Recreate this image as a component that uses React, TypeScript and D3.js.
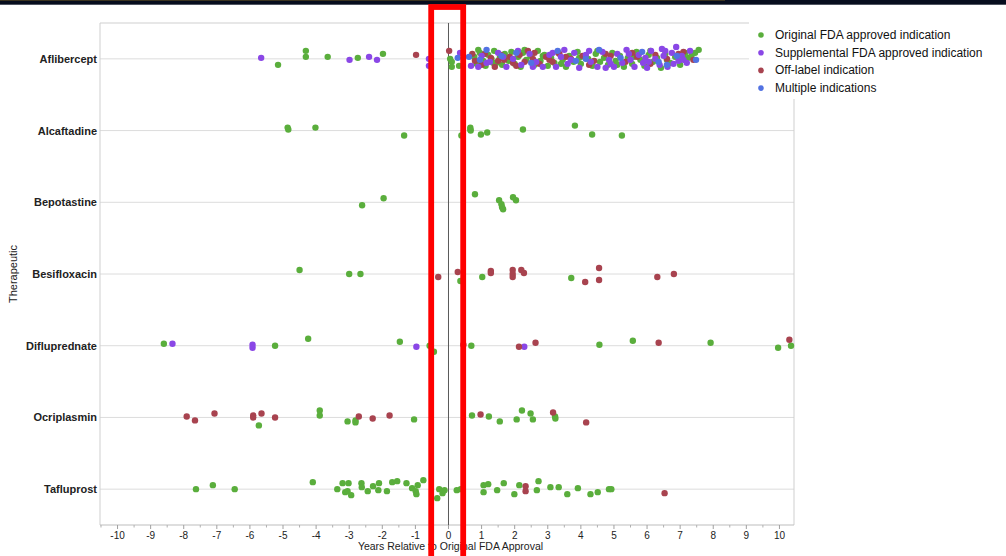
import React from "react";
import * as d3 from "d3";

// ---------- DATA ----------
const therapeutics = [
  "Aflibercept",
  "Alcaftadine",
  "Bepotastine",
  "Besifloxacin",
  "Difluprednate",
  "Ocriplasmin",
  "Tafluprost",
];

const indicationTypes = [
  "Original FDA approved indication",
  "Supplemental FDA approved indication",
  "Off-label indication",
  "Multiple indications",
];

const typeColors = ["#5aae3c", "#8a47e6", "#a8434f", "#5272e2"];

const xTicks = [-10, -9, -8, -7, -6, -5, -4, -3, -2, -1, 0, 1, 2, 3, 4, 5, 6, 7, 8, 9, 10];

// each point: [years relative to original FDA approval, vertical jitter]
const aflOriginal = [
  [-5.15, 6], [-4.31, -8], [-4.31, -2], [-3.65, -2], [-2.74, -1], [-1.98, -5], [0.05, 0], [0.1, 3], [0.1, 8], [0.32, 7],
  [0.78, -2], [0.85, 5], [0.9, -9], [0.95, -6], [1.05, 2], [1.12, 7], [1.2, -4], [1.3, 0], [1.35, 4], [1.38, -8],
  [1.45, 4], [1.55, -1], [1.62, 6], [1.7, -5], [1.75, -1], [1.82, 2], [1.9, -7], [2.0, 5], [2.1, -2], [2.18, 8],
  [2.25, -6], [2.3, -9], [2.35, 1], [2.48, -3], [2.6, 6], [2.7, -8], [2.78, 2], [2.85, -3], [2.9, -4], [3.0, 7],
  [3.1, -1], [3.2, 4], [3.32, -6], [3.4, 5], [3.45, 1], [3.55, 8], [3.65, -3], [3.78, 3], [3.9, -7], [3.95, -1],
  [4.0, 5], [4.1, -2], [4.22, 0], [4.35, 7], [4.45, -5], [4.5, -8], [4.58, 3], [4.7, -1], [4.82, 6], [4.95, -6],
  [5.05, 2], [5.1, 6], [5.18, -3], [5.3, 8], [5.42, -1], [5.55, 5], [5.6, -2], [5.68, -7], [5.8, 1], [5.92, 7],
  [6.05, -4], [6.1, -8], [6.18, 3], [6.3, -1], [6.42, 9], [6.55, -5], [6.6, 1], [6.7, 4], [6.85, -2], [7.0, 6],
  [7.1, -2], [7.15, -6], [7.25, -1], [7.35, -4], [7.45, -6], [7.56, -9],
];
const aflSupplemental = [
  [-5.66, -1], [-2.99, 1], [-2.4, -2], [-2.16, 1], [-0.59, 0], [-0.59, 7], [0.35, -6], [0.68, 7],
  [0.9, 8], [1.0, -3], [1.15, 4], [1.25, 3], [1.5, -6], [1.65, -2], [1.75, 8], [1.95, 0], [2.1, -8], [2.2, 6],
  [2.45, -5], [2.55, 8], [2.65, 3], [2.85, 8], [3.05, -4], [3.15, -6], [3.25, 8], [3.4, -2], [3.5, -9], [3.6, 5],
  [3.7, 1], [3.8, -6], [3.95, 9], [4.15, -4], [4.25, -8], [4.3, 3], [4.5, 8], [4.65, -7], [4.75, 9], [4.85, 1],
  [4.9, 5], [5.0, 8], [5.1, -5], [5.25, 4], [5.38, -9], [5.45, -5], [5.5, 1], [5.62, 8], [5.75, -4], [5.88, 4],
  [5.95, -1], [6.0, 9], [6.05, 3], [6.12, -8], [6.25, 0], [6.38, 6], [6.45, -10], [6.5, -3], [6.55, -8], [6.62, 8],
  [6.75, -6], [6.8, 5], [6.88, -12], [6.95, 2], [7.05, -3], [7.1, 1], [7.2, 4], [7.3, -8],
];
const aflOffLabel = [
  [-0.98, -4], [0.02, -8], [0.72, -5], [0.8, 2], [1.0, 6], [1.1, -5], [1.28, -1], [1.4, 8], [1.5, 2], [1.58, -4],
  [1.68, 1], [1.85, -2], [1.95, 4], [2.05, 7], [2.15, -4], [2.3, 3], [2.4, -8], [2.55, 0], [2.6, -6], [2.75, 5],
  [2.95, -2], [3.05, 1], [3.15, 3], [3.35, -5], [3.55, -2], [3.7, 0], [4.05, -3], [4.25, 6], [4.4, 2], [4.75, -5],
  [4.9, -3], [5.35, 3], [5.55, -6], [5.7, -2], [6.1, 5], [6.25, -4], [6.6, 0], [6.95, -5], [7.1, -7], [7.4, 1],
];
const aflMultiple = [
  [0.28, -1], [0.62, -2], [0.95, 1], [1.15, -9], [1.6, -3], [2.05, -6], [2.5, 4], [3.3, -8], [3.85, 2], [4.15, 0],
  [4.55, -9], [5.2, -1], [5.85, -7], [6.35, 3], [6.6, 6], [6.9, -3], [7.48, 1],
];

const alcOriginal = [
  [-4.86, -3], [-4.84, -1], [-4.02, -3], [-1.34, 5], [0.39, 5], [0.66, -3], [0.66, -1], [0.67, 0], [0.98, 4],
  [1.17, 2], [2.25, -1], [3.82, -5], [4.34, 4], [5.24, 5],
];

const bepOriginal = [
  [-2.61, 3], [-1.96, -4], [0.8, -8], [1.53, -2], [1.6, 2], [1.62, 5], [1.65, 7], [1.95, -5], [2.04, -2],
];

const besOriginal = [[-4.5, -4], [-3.0, 0], [-2.66, 0], [0.36, 7], [1.02, 3], [3.71, 4]];
const besOffLabel = [
  [-0.31, 3], [0.28, -2], [1.28, -3], [1.28, -1], [1.94, -4], [1.94, 0], [1.94, 3], [2.2, -4], [2.28, -1],
  [4.13, 8], [4.55, -6], [4.55, 6], [6.31, 3], [6.81, 0],
];

const difOriginal = [
  [-8.6, -2], [-5.24, 0], [-4.24, -7], [-1.47, -4], [-0.57, 0], [-0.44, 6], [0.69, 0], [4.56, -1], [5.57, -5],
  [7.92, -3], [9.96, 2], [10.35, 0],
];
const difSupplemental = [[-8.34, -2], [-5.92, -1], [-5.92, 2], [-0.97, 1], [2.29, 1]];
const difOffLabel = [[0.45, -1], [2.13, 1], [2.63, -3], [6.35, -3], [10.3, -6]];

const ocrOriginal = [
  [-5.73, 8], [-3.89, -7], [-3.89, -2], [-3.05, 4], [-2.81, 3], [-2.81, 5], [-1.04, 2], [0.71, -2], [1.22, -1],
  [1.55, 4], [2.06, 2], [2.22, -7], [2.48, -4], [2.55, 2], [3.22, -1], [3.23, 1],
];
const ocrOffLabel = [
  [-7.91, -1], [-7.66, 3], [-7.07, -4], [-5.9, -2], [-5.9, 0], [-5.65, -4], [-5.24, 0], [-2.71, -1], [-2.29, 1],
  [-1.78, -2], [0.97, -3], [3.16, -5], [4.16, 5],
];

const tafOriginal = [
  [-7.63, 0], [-7.12, -4], [-6.46, 0], [-4.1, -7], [-3.36, 0], [-3.2, -6], [-3.02, -6], [-3.12, 3], [-3.05, 2],
  [-2.94, 6], [-2.63, -6], [-2.62, -2], [-2.44, 2], [-2.28, -3], [-2.1, -6], [-2.12, 1], [-1.86, 2], [-1.7, -7],
  [-1.55, -8], [-1.27, -6], [-1.1, -1], [-0.99, 2], [-0.97, 5], [-0.93, -4], [-0.76, -9], [-0.34, 9], [-0.28, 0],
  [-0.18, 4], [-0.12, 1], [0.25, 1], [0.37, 0], [1.06, -4], [1.06, 3], [1.2, -5], [1.47, 1], [1.67, -6],
  [1.99, 5], [2.14, -4], [2.67, 1], [2.72, -8], [3.08, -2], [3.33, -2], [3.59, 5], [3.91, -1], [4.29, 5],
  [4.51, 3], [4.85, 0], [4.92, 0],
];
const tafOffLabel = [[2.33, -3], [2.33, 2], [6.53, 4]];

// table built from the arrays above: [therapeutic, indication type index, points]
const seriesTable = [
  ["Aflibercept", 0, aflOriginal],
  ["Aflibercept", 2, aflOffLabel],
  ["Aflibercept", 1, aflSupplemental],
  ["Aflibercept", 3, aflMultiple],
  ["Alcaftadine", 0, alcOriginal],
  ["Bepotastine", 0, bepOriginal],
  ["Besifloxacin", 0, besOriginal],
  ["Besifloxacin", 2, besOffLabel],
  ["Difluprednate", 0, difOriginal],
  ["Difluprednate", 1, difSupplemental],
  ["Difluprednate", 2, difOffLabel],
  ["Ocriplasmin", 0, ocrOriginal],
  ["Ocriplasmin", 2, ocrOffLabel],
  ["Tafluprost", 0, tafOriginal],
  ["Tafluprost", 2, tafOffLabel],
] as [string, number, number[][]][];

// ---------- CHART ----------
const W = 1006;
const H = 556;
const M = { left: 100, right: 794, top: 23, bottom: 525 };
const FONT = "'Liberation Sans', Arial, Helvetica, sans-serif";

export default function App() {
  const x = d3.scaleLinear().domain([-10.53, 10.44]).range([M.left, M.right]);
  const y = d3.scaleBand().domain(therapeutics).range([M.top, M.bottom]);
  const yc = (d: string) => (y(d) as number) + y.bandwidth() / 2;
  const jitter = d3.scaleLinear().domain([-12, 12]).range([-y.bandwidth() * 0.167, y.bandwidth() * 0.167]);
  const minorTicks = d3.range(-10.5, 10.5, 0.5).filter((v) => Math.abs(v % 1) > 0.1);

  return (
    <svg
      width={W}
      height={H}
      style={{ position: "absolute", left: 0, top: 0, background: "#fff", display: "block" }}
      fontFamily={FONT}
    >
      {/* top dark band */}
      <rect x={0} y={0} width={W} height={4.7} fill="#070d1e" />
      <rect x={0} y={0} width={725} height={1} fill="#3b3320" />

      {/* grid lines */}
      {therapeutics.map((t) => (
        <line key={t} x1={M.left} x2={M.right} y1={yc(t)} y2={yc(t)} stroke="#dcdcdc" strokeWidth={1} />
      ))}

      {/* frame */}
      <line x1={M.left} x2={M.right} y1={M.top} y2={M.top} stroke="#cfcfcf" />
      <line x1={M.left} x2={M.left} y1={M.top} y2={M.bottom} stroke="#cfcfcf" />
      <line x1={M.right} x2={M.right} y1={M.top} y2={M.bottom} stroke="#cfcfcf" />
      <line x1={M.left} x2={M.right} y1={M.bottom} y2={M.bottom} stroke="#bdbdbd" />

      {/* zero reference line */}
      <line x1={x(0)} x2={x(0)} y1={M.top} y2={M.bottom} stroke="#5a5a5a" strokeWidth={1} />

      {/* x axis ticks */}
      {xTicks.map((v) => (
        <g key={v}>
          <line x1={x(v)} x2={x(v)} y1={M.bottom} y2={M.bottom + 4} stroke="#a0a0a0" />
          <text x={x(v)} y={539} fontSize={10} textAnchor="middle" fill="#222">
            {v}
          </text>
        </g>
      ))}
      {minorTicks.map((v) => (
        <line key={"m" + v} x1={x(v)} x2={x(v)} y1={M.bottom} y2={M.bottom + 2.5} stroke="#b0b0b0" />
      ))}
      <text x={x(0) + 2} y={550} fontSize={10.5} textAnchor="middle" fill="#222">
        Years Relative to Original FDA Approval
      </text>

      {/* y labels */}
      {therapeutics.map((t) => (
        <text key={"l" + t} x={97} y={yc(t) + 4} fontSize={11} fontWeight="bold" textAnchor="end" fill="#222">
          {t}
        </text>
      ))}
      <text
        transform={`translate(17,${(M.top + M.bottom) / 2}) rotate(-90)`}
        fontSize={11}
        textAnchor="middle"
        fill="#222"
      >
        Therapeutic
      </text>

      {/* points */}
      {seriesTable.map(([drug, ti, pts]) =>
        pts.map((p, i) => (
          <circle
            key={drug + ti + "-" + i}
            cx={x(p[0])}
            cy={yc(drug) + jitter(p[1])}
            r={3.2}
            fill={typeColors[ti]}
          />
        ))
      )}

      {/* legend */}
      <rect x={749} y={21} width={W - 749} height={78} fill="#fff" />
      {indicationTypes.map((name, i) => (
        <g key={name} transform={`translate(761,${35 + i * 17.7})`}>
          <circle cx={0} cy={0} r={2.8} fill={typeColors[i]} />
          <text x={14} y={4} fontSize={12} fill="#111">
            {name}
          </text>
        </g>
      ))}

      {/* red highlight box */}
      <rect x={431.2} y={7} width={32} height={560} fill="none" stroke="#ff0000" strokeWidth={5.8} />
    </svg>
  );
}
